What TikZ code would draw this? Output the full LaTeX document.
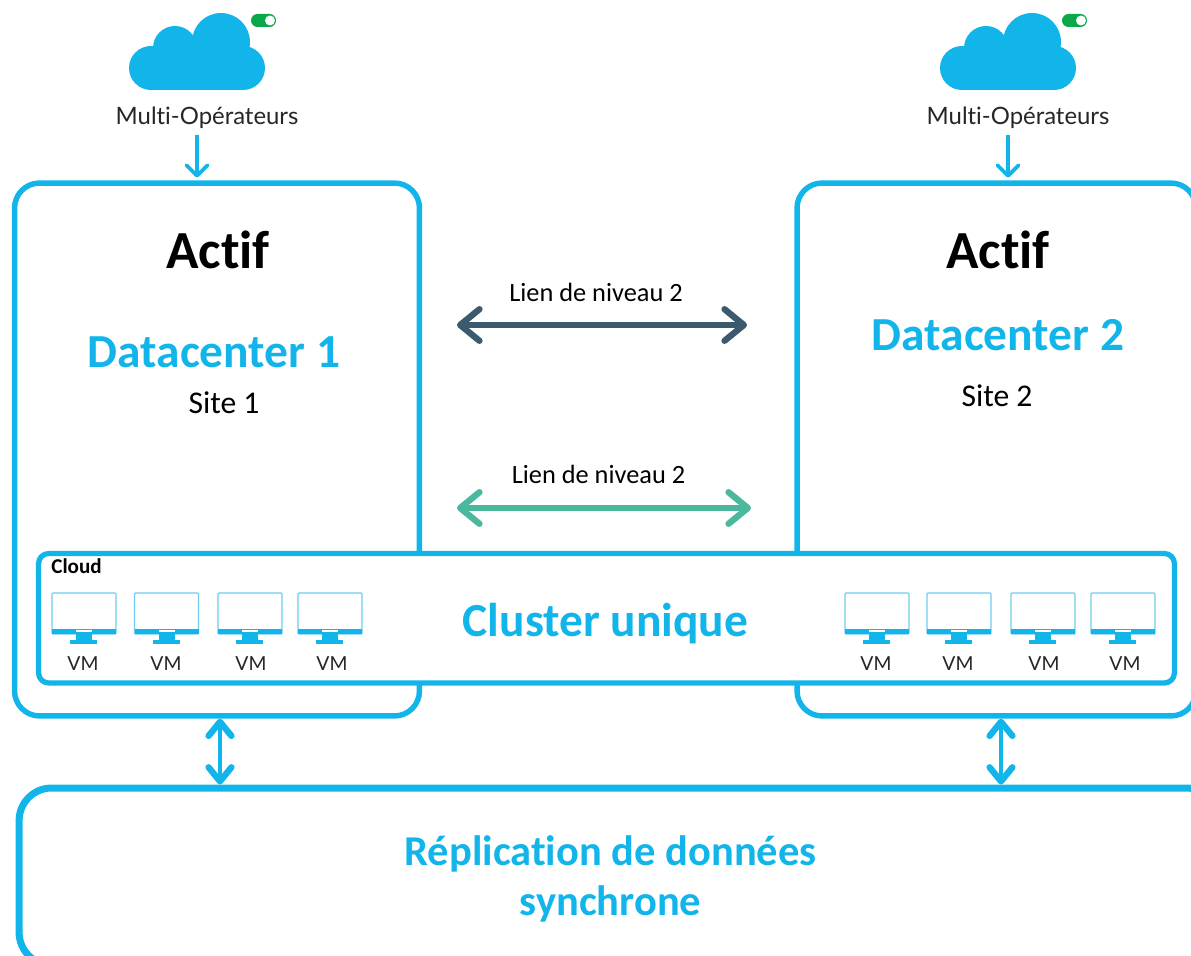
\documentclass[tikz,border=0pt]{standalone}
\usepackage{fontspec}
\setmainfont[Ligatures=NoCommon]{Carlito}
\newfontfamily\latofont[Ligatures=NoCommon]{Lato}
\usepackage{tikz}
\usetikzlibrary {arrows.meta}
\definecolor{skyline}{HTML}{12B5EA}
\definecolor{skylight}{HTML}{6CCDF0}
\definecolor{linkdark}{HTML}{3B5A6E}
\definecolor{linkgreen}{HTML}{4BB89E}
\definecolor{togglegreen}{HTML}{0BA84A}
\tikzset{
	siteframe/.style={draw=skyline, line width=3.1pt, rounded corners=0.5cm, inner sep=0pt},
	clusterframe/.style={draw=skyline, fill=white, line width=3pt, rounded corners=0.2cm, inner sep=0pt},
	repframe/.style={draw=skyline, line width=4pt, rounded corners=0.65cm, inner sep=0pt},
	bigtitle/.style={font=\bfseries\fontsize{30.5}{32}\selectfont, text=black},
	bluetitle/.style={font=\bfseries\fontsize{27}{30}\selectfont, text=skyline},
	sitetext/.style={font=\fontsize{18}{20}\selectfont, text=black},
	linktext/.style={font=\fontsize{15}{17}\selectfont, text=black},
	optext/.style={font=\latofont\fontsize{13.6}{15}\selectfont, text=black!85},
	vmtext/.style={font=\latofont\fontsize{11}{12}\selectfont, text=black!85},
	inarrow/.style={draw=skyline, line width=2.2pt, -{Straight Barb[length=6pt,width=12pt,line width=2.2pt,round]}},
	syncarrow/.style={draw=skyline, line width=2.8pt, {Straight Barb[length=8pt,width=13pt,line width=3.6pt,round]}-{Straight Barb[length=8pt,width=13pt,line width=3.6pt,round]}},
	linkarrow/.style={line width=3.2pt, {Straight Barb[length=11pt,width=18pt,line width=3.6pt,round]}-{Straight Barb[length=11pt,width=18pt,line width=3.6pt,round]}},
	cloudicon/.pic={
		\fill[skyline] (151,68) circle (22) (243,68) circle (22) (175,48) circle (22) (221,42) circle (29);
		\fill[skyline] (151,46) rectangle (243,90);
		\fill[togglegreen, rounded corners=0.13cm] (251,14) rectangle (276,27);
		\fill[white] (270,20.5) circle (5);
	},
	vmscreen/.pic={
		\draw[skylight, line width=0.7pt, rounded corners=0.5pt] (0,0) rectangle (64,41);
		\fill[skyline] (0,36) rectangle (64,41);
		\fill[white] (24,37) rectangle (40,38.5);
		\fill[skyline] (24,41) rectangle (40,47);
		\fill[skyline] (18,47) rectangle (45,51);
	},
}
\begin{document}
\begin{tikzpicture}[x=0.02cm, y=-0.02cm]
	\useasboundingbox (0,0) rectangle (1191,956);
	\clip (0,0) rectangle (1191,956);
	\node[siteframe, minimum width=8.1cm, minimum height=10.66cm] (dc1) at (217,449.5) {};
	\node[siteframe, minimum width=7.98cm, minimum height=10.66cm] (dc2) at (996.5,449.5) {};
	\node[clusterframe, minimum width=22.72cm, minimum height=2.59cm] (cluster) at (606.5,618.25) {};
	\node[repframe, minimum width=24cm, minimum height=3.54cm] (rep) at (619,876.5) {};

	\pic at (0,0) {cloudicon};
	\pic at (811,0) {cloudicon};
	\node[optext] (mo1) at (207,118) {Multi-Opérateurs};
	\node[optext] (mo2) at (1018,118) {Multi-Opérateurs};
	\coordinate (in1) at (197,135);
	\coordinate (in2) at (1008,135);
	\draw[inarrow, shorten >=1.5pt] (in1) -- (in1 |- dc1.north);
	\draw[inarrow, shorten >=1.5pt] (in2) -- (in2 |- dc2.north);

	\node[bigtitle] (actif1) at (218,250) {Actif};
	\node[bigtitle] (actif2) at (998,250) {Actif};
	\node[bluetitle] (name1) at (214,352) {Datacenter 1};
	\node[bluetitle] (name2) at (998,335) {Datacenter 2};
	\node[sitetext] (site1) at (224,403) {Site 1};
	\node[sitetext] (site2) at (997,396) {Site 2};

	\node[linktext] (link1) at (596,292) {Lien de niveau 2};
	\node[linktext] (link2) at (598.5,474) {Lien de niveau 2};
	\coordinate (la) at (457,325);
	\coordinate (lb) at (747,325);
	\coordinate (lc) at (457,508);
	\coordinate (ld) at (751,508);
	\draw[linkarrow, linkdark] (la) -- (lb);
	\draw[linkarrow, linkgreen] (lc) -- (ld);

	\node[anchor=west, inner sep=0pt, font=\bfseries\fontsize{12}{14}\selectfont] (cloudname) at (51,566) {Cloud};
	\node[bluetitle] (clustername) at (605.5,624) {Cluster unique};
	\foreach \i/\px/\lx in {1/52/83, 2/134.5/166, 3/218/251, 4/298/332, 5/845/876, 6/927/958, 7/1011/1044, 8/1091/1125} {
		\pic at (\px,593) {vmscreen};
		\node[vmtext] (vm\i) at (\lx,664) {VM};
	}

	\coordinate (sy1) at (220,750);
	\coordinate (sy2) at (1001,750);
	\draw[syncarrow] (sy1 |- dc1.south) -- (sy1 |- rep.north);
	\draw[syncarrow] (sy2 |- dc2.south) -- (sy2 |- rep.north);

	\node[bluetitle, align=center, font=\bfseries\fontsize{24.2}{28.3}\selectfont] (repname) at (610.5,879) {Réplication de données\\synchrone};
\end{tikzpicture}
\end{document}
